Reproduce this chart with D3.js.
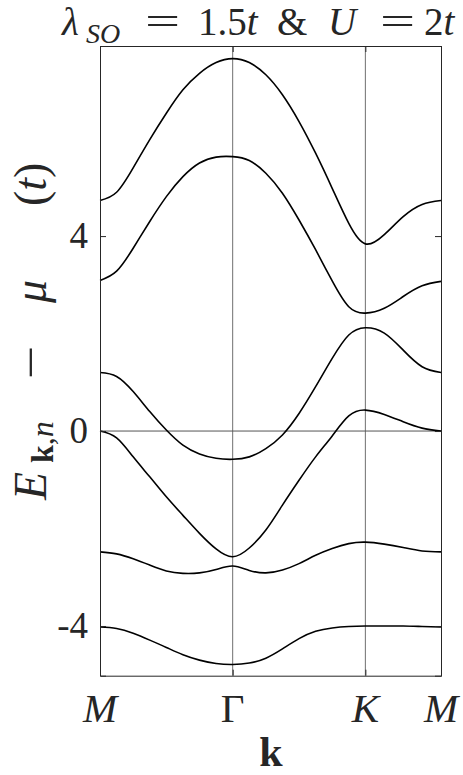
<!DOCTYPE html>
<html>
<head>
<meta charset="utf-8">
<script src="https://cdn.jsdelivr.net/npm/d3@7"></script>
<style>
  body { margin: 0; background: #fff; }
  svg { display: block; }
  text { font-family: "Liberation Serif", "DejaVu Serif", serif; fill: #262626; }
</style>
</head>
<body>
<svg></svg>
<script>
// band energies read along the path M -> Gamma -> K -> M
let kPoints = [0, 0.125, 0.25, 0.375, 0.5, 0.625, 0.75, 0.875, 1,
               1.125, 1.25, 1.375, 1.5, 1.625, 1.75, 1.875, 2,
               2.1425, 2.285, 2.4275, 2.57]

let band1 = [4.73, 4.90, 5.40, 5.98, 6.52, 7.00, 7.34, 7.56, 7.64, 7.56, 7.31, 6.90, 6.35, 5.70, 4.98, 4.26, 3.84, 4.03, 4.40, 4.65, 4.73]
let band2 = [3.09, 3.28, 3.75, 4.30, 4.81, 5.22, 5.50, 5.62, 5.63, 5.55, 5.29, 4.88, 4.33, 3.72, 3.08, 2.55, 2.42, 2.52, 2.76, 2.98, 3.07]
let band3 = [1.20, 1.12, 0.81, 0.40, 0.02, -0.29, -0.47, -0.56, -0.58, -0.53, -0.36, -0.08, 0.36, 0.91, 1.49, 1.97, 2.12, 2.01, 1.66, 1.32, 1.20]
let band4 = [0.00, -0.14, -0.53, -0.94, -1.35, -1.73, -2.10, -2.42, -2.58, -2.40, -2.03, -1.52, -1.01, -0.53, -0.10, 0.31, 0.43, 0.34, 0.19, 0.06, 0.00]
let band5 = [-2.48, -2.52, -2.62, -2.75, -2.87, -2.92, -2.91, -2.84, -2.77, -2.86, -2.91, -2.85, -2.72, -2.55, -2.41, -2.31, -2.28, -2.32, -2.39, -2.46, -2.48]
let band6 = [-4.02, -4.05, -4.15, -4.29, -4.44, -4.59, -4.70, -4.77, -4.79, -4.76, -4.66, -4.47, -4.26, -4.11, -4.04, -4.01, -4.00, -4.00, -4.00, -4.01, -4.02]

let bands = [band1, band2, band3, band4, band5, band6]

// high symmetry points
let kTicks = [0, 1, 2, 2.57]
let kLabels = ["M", "Γ", "K", "M"]
let eTicks = [-4, 0, 4]

let width = 463
let height = 775
let plotLeft = 100, plotRight = 441, plotTop = 46, plotBottom = 675.7

let svg = d3.select("svg")
  .attr("width", width)
  .attr("height", height)

let xScale = d3.scaleLinear()
  .domain([0, 2.57])
  .range([plotLeft, plotRight])

let yScale = d3.scaleLinear()
  .domain([-5.02, 7.9])
  .range([plotBottom, plotTop])

// grid lines at Gamma, K and at zero energy
svg.selectAll(".vline")
  .data(kTicks.slice(1, 3))
  .enter()
  .append("line")
  .attr("x1", d => xScale(d))
  .attr("x2", d => xScale(d))
  .attr("y1", plotTop)
  .attr("y2", plotBottom)
  .attr("stroke", "#707070")
  .attr("stroke-width", 1)

svg.append("line")
  .attr("x1", plotLeft)
  .attr("x2", plotRight)
  .attr("y1", yScale(0))
  .attr("y2", yScale(0))
  .attr("stroke", "#555")
  .attr("stroke-width", 1)

let line = d3.line()
  .x((d, i) => xScale(kPoints[i]))
  .y(d => yScale(d))
  .curve(d3.curveNatural)

svg.selectAll(".band")
  .data(bands)
  .enter()
  .append("path")
  .attr("class", "band")
  .attr("d", line)
  .attr("fill", "none")
  .attr("stroke", "#000")
  .attr("stroke-width", 1.6)

// axes, ticks pointing inward, box drawn on all four sides
let xAxis = d3.axisBottom(xScale).tickValues(kTicks).tickSize(-6).tickFormat("")
let xAxisTop = d3.axisTop(xScale).tickValues(kTicks).tickSize(-6).tickFormat("")
let yAxis = d3.axisLeft(yScale).tickValues(eTicks).tickSize(-6).tickFormat("")
let yAxisRight = d3.axisRight(yScale).tickValues(eTicks).tickSize(-6).tickFormat("")

let styleAxis = g => {
  g.select(".domain").attr("stroke", "#262626")
  g.selectAll(".tick line").attr("stroke", "#262626")
}

svg.append("g").attr("transform", "translate(0," + plotBottom + ")").call(xAxis).call(styleAxis)
svg.append("g").attr("transform", "translate(0," + plotTop + ")").call(xAxisTop).call(styleAxis)
svg.append("g").attr("transform", "translate(" + plotLeft + ",0)").call(yAxis).call(styleAxis)
svg.append("g").attr("transform", "translate(" + plotRight + ",0)").call(yAxisRight).call(styleAxis)

// tick labels
svg.selectAll(".elabel")
  .data(eTicks)
  .enter()
  .append("text")
  .attr("x", 88)
  .attr("y", d => yScale(d) + 12)
  .attr("text-anchor", "end")
  .style("font-size", "37px")
  .text(d => d < 0 ? "-" + Math.abs(d) : d)

svg.selectAll(".klabel")
  .data(kTicks)
  .enter()
  .append("text")
  .attr("x", d => xScale(d))
  .attr("y", 722)
  .attr("text-anchor", "middle")
  .style("font-size", "41px")
  .style("font-style", (d, i) => kLabels[i] == "Γ" ? "normal" : "italic")
  .text((d, i) => kLabels[i])

// axis titles
svg.append("text")
  .attr("x", 271)
  .attr("y", 766)
  .attr("text-anchor", "middle")
  .style("font-size", "42px")
  .style("font-weight", "bold")
  .text("k")

// y label pieces placed along the rotated axis (x = -screen y)
let ylab = svg.append("text")
  .attr("transform", "translate(46,0) rotate(-90)")
  .style("font-size", "46px")
ylab.append("tspan").attr("x", -500).style("font-style", "italic").text("E")
ylab.append("tspan").attr("x", -463).attr("dy", 7).style("font-size", "32px").style("font-weight", "bold").text("k")
ylab.append("tspan").style("font-size", "32px").text(",")
ylab.append("tspan").style("font-size", "32px").style("font-style", "italic").text("n")
ylab.append("tspan").attr("x", -303).attr("dy", -7).style("font-style", "italic").text("μ")
ylab.append("tspan").attr("x", -206).text("(")
ylab.append("tspan").style("font-style", "italic").text("t")
ylab.append("tspan").text(")")

// the long TeX-style minus, stretched along the label
svg.append("text")
  .attr("transform", "translate(46,379) rotate(-90) scale(1.3,1)")
  .style("font-size", "46px")
  .text("−")

// title pieces placed by x
let title = svg.append("text")
  .attr("y", 35)
  .style("font-size", "39px")
title.append("tspan").attr("x", 62).style("font-style", "italic").text("λ")
title.append("tspan").attr("x", 86).attr("dy", 8).style("font-size", "28px").style("font-style", "italic").text("SO")
title.append("tspan").attr("x", 198).attr("dy", -8).text("1.5")
title.append("tspan").style("font-style", "italic").text("t")
title.append("tspan").attr("x", 277).text("&")
title.append("tspan").attr("x", 328).style("font-style", "italic").text("U")
title.append("tspan").attr("x", 424).text("2")
title.append("tspan").style("font-style", "italic").text("t")

// wide equals signs of the title
svg.selectAll(".eq")
  .data([145, 380])
  .enter()
  .append("text")
  .attr("transform", d => "translate(" + d + ",35) scale(1.6,1)")
  .style("font-size", "39px")
  .text("=")
</script>
</body>
</html>
